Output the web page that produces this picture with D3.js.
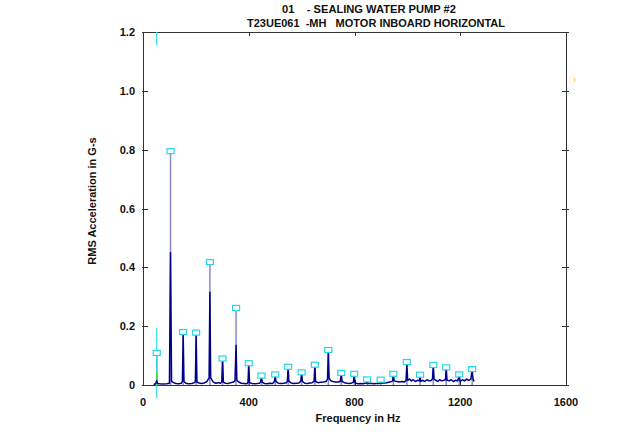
<!DOCTYPE html>
<html><head><meta charset="utf-8">
<script src="https://cdn.jsdelivr.net/npm/d3@7"></script>
<style>
html,body{margin:0;padding:0;background:#fff;}
text{font-family:"Liberation Sans",Arial,sans-serif;font-weight:bold;fill:#111;}
</style></head>
<body><svg id="c" width="640" height="432"></svg>
<script>
const titleLines = ["01    - SEALING WATER PUMP #2", "T23UE061  -MH   MOTOR INBOARD HORIZONTAL"];
const xLabel = "Frequency in Hz";
const yLabel = "RMS Acceleration in G-s";
const xTicks = [0, 400, 800, 1200, 1600];
const yTicks = [0, 0.2, 0.4, 0.6, 0.8, 1.0, 1.2];

// spectrum (frequency in Hz, RMS amplitude in G)
const specFreq = [40,48,52,55,62,75,90,100,104,108,115,125,135,145,149,152,155,162,172,185,195,198,201,204,212,222,232,242,247,250,253,256,260,266,275,285,293,298,301,304,312,322,332,342,348,352,355,362,372,382,392,397,400,403,412,422,432,440,445,448,451,460,470,480,490,497,500,503,512,522,532,542,546,549,552,560,570,580,590,597,600,603,612,622,632,640,647,650,653,662,672,682,692,698,701,704,710,718,728,738,746,750,753,762,772,782,790,796,799,802,812,822,832,840,845,848,851,862,872,882,890,896,899,902,912,922,932,940,944,947,950,960,970,980,988,995,998,1001,1008,1015,1022,1030,1038,1045,1048,1051,1058,1066,1074,1082,1090,1095,1098,1101,1108,1115,1122,1130,1138,1144,1147,1150,1158,1166,1174,1182,1190,1196,1200,1208,1216,1224,1232,1240,1245,1248,1252];
const specAmp = [0.002,0.004,0.015,0.005,0.004,0.003,0.004,0.006,0.45,0.012,0.008,0.005,0.004,0.006,0.012,0.17,0.012,0.006,0.004,0.005,0.008,0.012,0.17,0.01,0.007,0.005,0.007,0.012,0.02,0.022,0.315,0.024,0.018,0.01,0.006,0.008,0.006,0.01,0.085,0.01,0.006,0.005,0.008,0.01,0.014,0.135,0.016,0.01,0.006,0.005,0.004,0.008,0.07,0.008,0.005,0.004,0.005,0.006,0.01,0.028,0.009,0.005,0.004,0.006,0.005,0.012,0.032,0.012,0.006,0.005,0.006,0.008,0.012,0.058,0.012,0.007,0.005,0.006,0.007,0.014,0.04,0.012,0.006,0.005,0.007,0.008,0.012,0.066,0.012,0.008,0.009,0.01,0.012,0.02,0.115,0.022,0.015,0.012,0.01,0.01,0.012,0.038,0.012,0.008,0.006,0.005,0.007,0.01,0.035,0.008,0.004,0.005,0.004,0.006,0.006,0.015,0.005,0.006,0.004,0.005,0.005,0.006,0.014,0.006,0.007,0.008,0.01,0.012,0.014,0.035,0.014,0.012,0.01,0.012,0.01,0.015,0.075,0.016,0.02,0.014,0.018,0.012,0.016,0.014,0.03,0.012,0.016,0.012,0.018,0.014,0.015,0.02,0.065,0.02,0.016,0.012,0.018,0.014,0.016,0.018,0.057,0.016,0.014,0.018,0.012,0.016,0.014,0.03,0.012,0.018,0.014,0.02,0.016,0.02,0.05,0.022,0.012];

// peak markers
const markerFreq = [52,104,152,201,253,301,352,400,448,500,549,600,650,701,750,799,848,899,947,998,1048,1098,1147,1196,1245];
const markerAmp = [0.109,0.795,0.18,0.178,0.418,0.09,0.262,0.074,0.032,0.036,0.062,0.043,0.069,0.119,0.041,0.038,0.019,0.018,0.038,0.078,0.035,0.068,0.06,0.036,0.054];

// cursor at running speed
const cursorFreq = 52;
const cursorSegments = [[1.2, 1.155], [0.194, -0.044]];
const cursorGreen = [0, 0.045];
const strayMark = [1630, 1.037];

const svg = d3.select("#c");
const L = 143, R = 566, T = 32, B = 385;
const x = d3.scaleLinear().domain([0, 1600]).range([L, R]);
const y = d3.scaleLinear().domain([0, 1.2]).range([B, T]);

// titles
svg.append("text").attr("x", 369).attr("y", 13).attr("text-anchor", "middle")
  .attr("font-size", 11).attr("textLength", 174).attr("lengthAdjust", "spacingAndGlyphs")
  .style("white-space", "pre").text(titleLines[0]);
svg.append("text").attr("x", 376).attr("y", 27).attr("text-anchor", "middle")
  .attr("font-size", 11).attr("textLength", 258).attr("lengthAdjust", "spacingAndGlyphs")
  .style("white-space", "pre").text(titleLines[1]);

// frame
const axisColor = "#333";
svg.append("rect").attr("x", L).attr("y", T).attr("width", R - L).attr("height", B - T)
  .attr("fill", "none").attr("stroke", axisColor).attr("stroke-width", 1).attr("shape-rendering", "crispEdges");

// x ticks
xTicks.forEach(t => {
  const px = Math.round(x(t)) + 0.5;
  if (t > 0 && t < 1600) {
    svg.append("line").attr("x1", px).attr("x2", px).attr("y1", B).attr("y2", B - 5).attr("stroke", axisColor);
    svg.append("line").attr("x1", px).attr("x2", px).attr("y1", T).attr("y2", T + 4).attr("stroke", axisColor);
  }
  svg.append("text").attr("x", x(t)).attr("y", 406).attr("text-anchor", "middle").attr("font-size", 11).text(d3.format("d")(t));
});
// y ticks
yTicks.forEach(t => {
  const py = Math.round(y(t)) + 0.5;
  svg.append("line").attr("x1", L - 1).attr("x2", L + 5).attr("y1", py).attr("y2", py).attr("stroke", axisColor);
  svg.append("line").attr("x1", R - 4).attr("x2", R + 3).attr("y1", py).attr("y2", py).attr("stroke", axisColor);
  svg.append("text").attr("x", 135).attr("y", y(t) + 4).attr("text-anchor", "end").attr("font-size", 11)
    .text(t === 0 ? "0" : d3.format(".1f")(t));
});

// axis labels
svg.append("text").attr("x", 358).attr("y", 422).attr("text-anchor", "middle").attr("font-size", 11).text(xLabel);
svg.append("text").attr("transform", "translate(96,201) rotate(-90)").attr("text-anchor", "middle")
  .attr("font-size", 11).text(yLabel);

// drop lines from markers
svg.append("g").selectAll("line").data(markerFreq).join("line")
  .attr("x1", d => x(d)).attr("x2", d => x(d))
  .attr("y1", (d, i) => y(markerAmp[i]) + 2.5).attr("y2", y(0))
  .attr("stroke", "#8a8ad0").attr("stroke-width", 1.5);

// cursor
cursorSegments.forEach(s => {
  svg.append("line").attr("x1", x(cursorFreq)).attr("x2", x(cursorFreq))
    .attr("y1", y(s[0])).attr("y2", y(s[1])).attr("stroke", "#22e0e8").attr("stroke-width", 1.2);
});
svg.append("line").attr("x1", x(cursorFreq)).attr("x2", x(cursorFreq))
  .attr("y1", y(cursorGreen[0])).attr("y2", y(cursorGreen[1])).attr("stroke", "#40e040").attr("stroke-width", 1.5);

// spectrum
const spec = specFreq.map((f, i) => [f, specAmp[i]]);
svg.append("path").datum(spec)
  .attr("d", d3.line().x(d => x(d[0])).y(d => y(d[1])))
  .attr("fill", "none").attr("stroke", "#000088").attr("stroke-width", 1.5).attr("stroke-linejoin", "round");

// markers
svg.append("g").selectAll("rect").data(markerFreq).join("rect")
  .attr("x", d => x(d) - 3.5).attr("y", (d, i) => y(markerAmp[i]) - 2.5)
  .attr("width", 7).attr("height", 5)
  .attr("fill", "#fff").attr("stroke", "#22d8e8").attr("stroke-width", 1.2);

// stray mark
svg.append("rect").attr("x", x(strayMark[0])).attr("y", y(strayMark[1]) - 2)
  .attr("width", 1.2).attr("height", 4).attr("fill", "#ffc860");
</script></body></html>
